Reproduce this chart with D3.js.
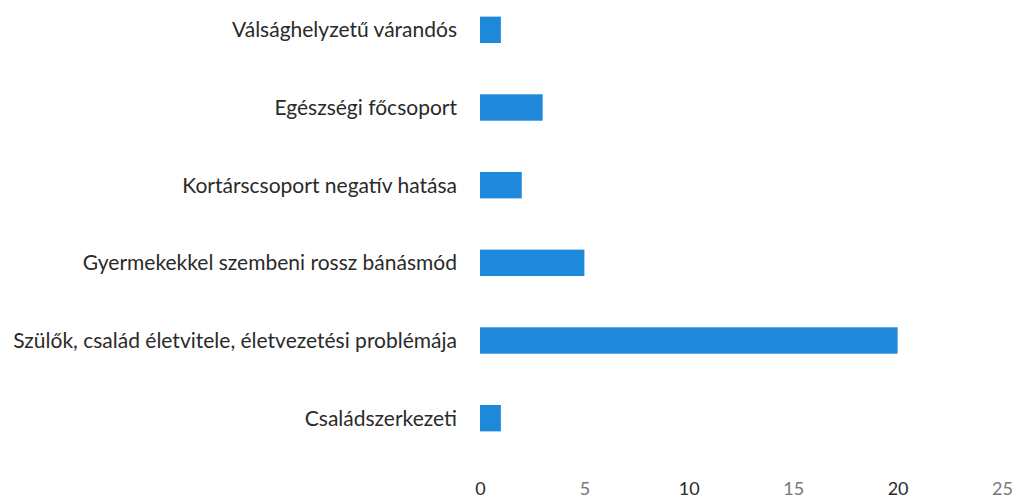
<!DOCTYPE html>
<html>
<head>
<meta charset="utf-8">
<script src="https://cdn.jsdelivr.net/npm/d3@7"></script>
<style>
  body { margin: 0; background: #fff; }
  svg { display: block; }
</style>
</head>
<body>
<div id="chart"></div>
<script>
// categories, top to bottom
const categories = [
  "Válsághelyzetű várandós",
  "Egészségi főcsoport",
  "Kortárscsoport negatív hatása",
  "Gyermekekkel szembeni rossz bánásmód",
  "Szülők, család életvitele, életvezetési problémája",
  "Családszerkezeti"
]
const values = [1, 3, 2, 5, 20, 1]
const xTicks = [0, 5, 10, 15, 20, 25]

var width = 1018, height = 498

var svg = d3.select("#chart").append("svg")
    .attr("width", width)
    .attr("height", height)

// x scale : 0 -> 480px, 25 -> 1002px
var x = d3.scaleLinear()
    .domain([0, 25])
    .range([480, 1002])

// y band scale
var y = d3.scaleBand()
    .domain(categories)
    .range([-9, 457])
    .paddingInner(0.66)
    .paddingOuter(0.33)

// bars
svg.append("g")
  .selectAll("rect")
    .data(values)
  .enter().append("rect")
    .attr("x", x(0))
    .attr("y", (d, i) => y(categories[i]))
    .attr("width", d => x(d) - x(0))
    .attr("height", y.bandwidth())
    .attr("fill", "#1e88da")

// category labels
svg.append("g")
  .selectAll("text")
    .data(categories)
  .enter().append("text")
    .attr("x", 457)
    .attr("y", d => y(d) + y.bandwidth() / 2)
    .attr("dy", "0.35em")
    .attr("text-anchor", "end")
    .attr("font-family", "Lato, sans-serif")
    .attr("font-size", "21px")
    .attr("fill", "#2a2a2a")
    .text(d => d)

// x axis (labels only)
var xAxis = d3.axisBottom(x)
    .tickValues(xTicks)
    .tickSize(0)
    .tickPadding(0)

var gx = svg.append("g")
    .attr("transform", "translate(0,482)")
    .call(xAxis)
gx.select(".domain").remove()
gx.selectAll("text")
    .attr("font-family", "Lato, sans-serif")
    .attr("font-size", "18px")
    .attr("fill", (d, i) => i % 2 ? "#777" : "#2a2a2a")
</script>
</body>
</html>
